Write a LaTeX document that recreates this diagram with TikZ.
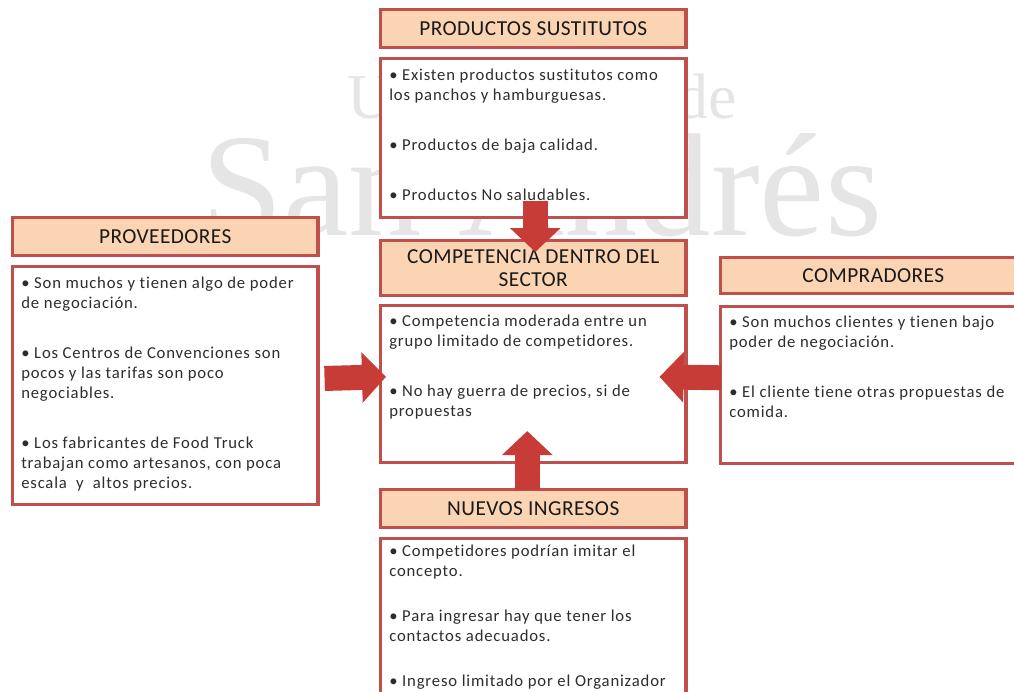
\documentclass[tikz,border=0pt]{standalone}
\usepackage{fontspec}
\setmainfont{Carlito}
\newfontfamily\marcafont{Liberation Serif}
\newfontfamily\cajafont[LetterSpace=5,Ligatures=NoCommon,Contextuals=NoAlternate]{Carlito}
\newfontfamily\titulofont[LetterSpace=2,Ligatures=NoCommon,Contextuals=NoAlternate]{Carlito}
\usetikzlibrary{arrows.meta}
\usetikzlibrary{calc}
\usetikzlibrary{positioning}
\definecolor{BordeRojo}{RGB}{192,80,77}
\definecolor{Durazno}{RGB}{251,212,180}
\definecolor{Flecha}{RGB}{200,60,55}
\definecolor{TextoGris}{RGB}{45,45,45}

\begin{document}
\begin{tikzpicture}[x=0.75pt,y=-0.75pt,node distance=6pt]
	\tikzset{
		H/.style={draw=BordeRojo,line width=2.4pt,fill=Durazno,minimum width=229pt,minimum height=28.5pt,align=center,inner sep=0pt,text=black!90,font=\titulofont\fontsize{16}{17}\selectfont},
		B/.style={draw=BordeRojo,line width=2.4pt,fill=white,minimum width=229pt,inner sep=0pt},
		T/.style={anchor=north west,align=left,inner sep=0pt,text=TextoGris,font=\cajafont\fontsize{12.5}{15}\selectfont},
		F/.style={line width=18.75pt,draw=Flecha,-{Triangle[width=37pt,length=18pt]}},
	}
	\clip (0,0) rectangle (1014,692);
	
	% marca de agua
	\node[anchor=base,text=black!10,font=\marcafont\fontsize{48}{48}\selectfont] (marca1) at (542,118) {Universidad de};
	\node[anchor=base,text=black!10,font=\marcafont\fontsize{110}{110}\selectfont] (marca2) at (542,235) {San Andrés};
	
	\node[H,anchor=north west] (susth) at (379,8) {PRODUCTOS SUSTITUTOS};
	\node[B,below=of susth,minimum height=119pt] (sust) {};
	\node[T] (sustt) at ($(sust.north west)+(10,11)$) {
		• Existen productos sustitutos como\\
		los panchos y hamburguesas.\\[22.5pt]
		• Productos de baja calidad.\\[22.5pt]
		• Productos No saludables.
	};
	
	\node[H,anchor=north west] (provh) at (11,216) {PROVEEDORES};
	\node[B,below=of provh,minimum height=178pt] (prov) {};
	\node[T] (provt) at ($(prov.north west)+(10,11)$) {
		• Son muchos y tienen algo de poder\\
		de negociación.\\[22.5pt]
		• Los Centros de Convenciones son\\
		pocos y las tarifas son poco\\
		negociables.\\[22.5pt]
		• Los fabricantes de Food Truck\\
		trabajan como artesanos, con poca\\
		escala ~y ~altos precios.
	};
	
	\node[H,anchor=north west,minimum height=41pt] (comph) at (379,239) {COMPETENCIA DENTRO DEL\\ SECTOR};
	\node[B,below=5pt of comph,minimum height=118pt] (comp) {};
	\node[T] (compt) at ($(comp.north west)+(10,11)$) {
		• Competencia moderada entre un\\
		grupo limitado de competidores.\\[22.5pt]
		• No hay guerra de precios, si de\\
		propuestas
	};
	
	\node[H,anchor=north west,minimum height=27pt] (comprh) at (719,256) {COMPRADORES};
	\node[B,below=7pt of comprh,minimum height=118pt] (compr) {};
	\node[T] (comprt) at ($(compr.north west)+(10,11)$) {
		• Son muchos clientes y tienen bajo\\
		poder de negociación.\\[22.5pt]
		• El cliente tiene otras propuestas de\\
		comida.
	};
	
	\node[H,anchor=north west] (nuevh) at (379,488) {NUEVOS INGRESOS};
	\node[B,below=of nuevh,minimum height=130pt] (nuev) {};
	\node[T] (nuevt) at ($(nuev.north west)+(10,7)$) {
		• Competidores podrían imitar el\\
		concepto.\\[18.75pt]
		• Para ingresar hay que tener los\\
		contactos adecuados.\\[18.75pt]
		• Ingreso limitado por el Organizador
	};
	
	% flechas
	\draw[F] ($(sust.south)+(2,-18)$) -- ($(comph.north)+(2,13)$);
	\draw[F] ($(prov.east)+(5,-7)$) -- ($(comp.west)+(7,-7)$);
	\draw[F] ($(compr.west)+(2,-7)$) -- ($(comp.east)+(-28,-7)$);
	\draw[F] ($(nuevh.north)+(-6,2)$) -- ($(comp.south)+(-6,-33)$);
\end{tikzpicture}
\end{document}
